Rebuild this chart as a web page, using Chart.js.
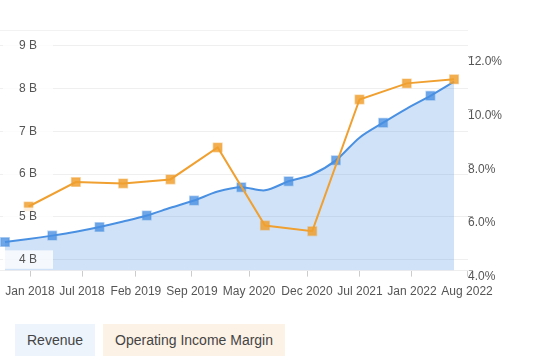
<!DOCTYPE html>
<html>
<head>
<meta charset="utf-8">
<script src="https://cdn.jsdelivr.net/npm/chart.js@4/dist/chart.umd.min.js"></script>
<style>
  body { margin: 0; background: #fff; font-family: "Liberation Sans", Arial, sans-serif; }
  #wrap { position: relative; width: 533px; height: 360px; }
  #box { position: absolute; left: 0; top: 0; width: 533px; height: 307px; }
  #legend { position: absolute; left: 15px; top: 324px; display: flex; gap: 8px; }
  #legend span { display: block; height: 32px; line-height: 32px; padding: 0 12px; font-size: 14px; color: #444; }
</style>
</head>
<body>
<div id="wrap">
  <div id="box"><canvas id="myChart"></canvas></div>
  <div id="legend">
    <span style="background:#edf4fc">Revenue</span>
    <span style="background:#fdf2e6">Operating Income Margin</span>
  </div>
</div>
<script>
const quarters = [
  "Sep 2017", "Dec 2017", "Mar 2018", "Jun 2018", "Sep 2018",
  "Dec 2018", "Mar 2019", "Jun 2019", "Sep 2019", "Dec 2019",
  "Mar 2020", "Jun 2020", "Sep 2020", "Dec 2020", "Mar 2021",
  "Jun 2021", "Sep 2021", "Dec 2021", "Mar 2022", "Jun 2022",
];
// revenue in billions
const revenue = [
  4.41, 4.48, 4.56, 4.65, 4.76, 4.89, 5.03, 5.21, 5.38, 5.59,
  5.69, 5.62, 5.83, 5.99, 6.32, 6.85, 7.2, 7.53, 7.83, 8.16,
];
const marginQuarters = [
  "Dec 2017", "Jun 2018", "Dec 2018", "Jun 2019", "Dec 2019",
  "Jun 2020", "Dec 2020", "Jun 2021", "Dec 2021", "Jun 2022",
];
// operating income margin, %
const margin = [6.39, 7.3, 7.25, 7.4, 8.59, 5.68, 5.47, 10.38, 10.98, 11.13];

const tickLabels = [
  "Jan 2018", "Jul 2018", "Feb 2019", "Sep 2019", "May 2020",
  "Dec 2020", "Jul 2021", "Jan 2022", "Aug 2022",
];
// where those dates fall, in quarter units
const tickValues = [1.06, 3.26, 5.54, 7.91, 10.33, 12.78, 15.02, 17.22, 19.55];

const revenueTicks = [4, 5, 6, 7, 8, 9];
const marginTicks = [4, 6, 8, 10, 12];

const blue = "rgb(74, 144, 226)";
const orange = "rgb(240, 160, 48)";

function RevenuePoints() {
  return revenue.map(function (v, i) {
    return { x: i, y: v };
  });
}

function MarginPoints() {
  return marginQuarters.map(function (q, k) {
    return { x: quarters.indexOf(q), y: margin[k] };
  });
}

const topLine = {
  id: "topLine",
  beforeDatasetsDraw(chart) {
    const a = chart.chartArea;
    const ctx = chart.ctx;
    ctx.save();
    ctx.strokeStyle = "#f2f2f2";
    ctx.lineWidth = 1;
    ctx.beginPath();
    ctx.moveTo(a.left, a.top + 0.5);
    ctx.lineTo(a.right, a.top + 0.5);
    ctx.stroke();
    ctx.restore();
  },
};

const font = { family: "'Liberation Sans', Arial, sans-serif", size: 12 };

const data = {
  datasets: [
    {
      label: "Operating Income Margin",
      data: MarginPoints(),
      yAxisID: "y1",
      borderColor: orange,
      borderWidth: 2,
      pointStyle: "rect",
      pointRadius: 6,
      pointBackgroundColor: "rgba(240, 160, 48, 0.85)",
      pointBorderColor: "rgba(240, 160, 48, 0.45)",
      pointBorderWidth: 1.5,
      tension: 0,
      clip: false,
      order: 1,
    },
    {
      label: "Revenue",
      data: RevenuePoints(),
      yAxisID: "y",
      borderColor: blue,
      borderWidth: 2,
      backgroundColor: "rgba(74, 144, 226, 0.26)",
      fill: "start",
      pointStyle: "rect",
      pointRadius: (ctx) => (ctx.dataIndex % 2 === 0 ? 6 : 0),
      pointBackgroundColor: "rgba(74, 144, 226, 0.8)",
      pointBorderColor: "rgba(74, 144, 226, 0.4)",
      pointBorderWidth: 1.5,
      tension: 0.3,
      clip: false,
      order: 2,
    },
  ],
};

const config = {
  type: "line",
  data: data,
  plugins: [topLine],
  options: {
    responsive: true,
    maintainAspectRatio: false,
    animation: false,
    layout: { autoPadding: false, padding: { top: 30, left: 0, right: 0, bottom: 0 } },
    plugins: { legend: { display: false }, tooltip: { enabled: false } },
    scales: {
      x: {
        type: "linear",
        min: -0.21,
        max: 19.59,
        afterBuildTicks: (s) => {
          s.ticks = tickValues.map((v) => ({ value: v }));
        },
        afterFit: (s) => {
          s.paddingLeft = 0;
          s.paddingRight = 0;
        },
        grid: { drawOnChartArea: false, drawTicks: true, tickLength: 6, color: "#cccccc" },
        border: { display: true, color: "#eeeeee" },
        ticks: {
          autoSkip: false,
          maxRotation: 0,
          padding: 8,
          color: "#555",
          font: font,
          callback: (v, i) => tickLabels[i],
        },
      },
      y: {
        position: "left",
        min: 3.742,
        max: 9.368,
        afterBuildTicks: (s) => {
          s.ticks = revenueTicks.map((v) => ({ value: v }));
        },
        afterFit: (s) => {
          s.width = 0;
        },
        grid: { color: "#efefef", drawTicks: false },
        border: { display: false },
        ticks: {
          mirror: true,
          padding: 19,
          z: 1,
          color: "#555",
          font: font,
          showLabelBackdrop: true,
          backdropColor: "rgba(255, 255, 255, 0.8)",
          backdropPadding: { left: 16, right: 16, top: 2, bottom: 2 },
          callback: (v) => v + " B",
        },
      },
      y1: {
        position: "right",
        min: 4,
        max: 12.97,
        afterBuildTicks: (s) => {
          s.ticks = marginTicks.map((v) => ({ value: v }));
        },
        afterFit: (s) => {
          s.width = 65;
        },
        grid: { drawOnChartArea: false, drawTicks: true, tickLength: 5, color: "#aaaaaa" },
        border: { display: false },
        ticks: {
          padding: -5,
          labelOffset: 6,
          color: "#555",
          font: font,
          callback: (v) => v.toFixed(1) + "%",
        },
      },
    },
  },
};

new Chart(document.getElementById("myChart"), config);
</script>
</body>
</html>
